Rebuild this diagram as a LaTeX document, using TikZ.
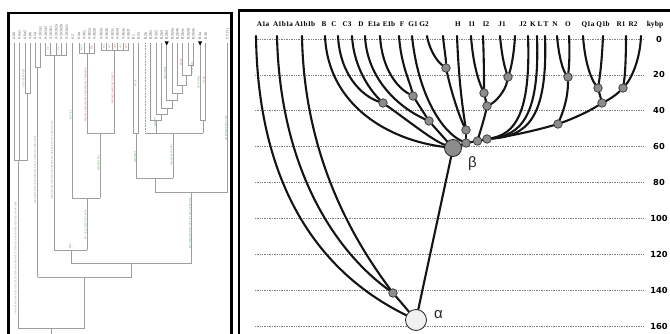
\documentclass[tikz,border=0pt]{standalone}
\usepackage{fontspec}
\setmainfont{Liberation Serif}
\setsansfont{Liberation Sans}
\newfontfamily\scalefont{DejaVu Sans}
\newfontfamily\grkfont{Liberation Sans}
\usetikzlibrary{backgrounds}
\definecolor{mg}{HTML}{5A9E5A}
\definecolor{mr}{HTML}{D25656}
\begin{document}
\begin{tikzpicture}[x=1pt,y=-1pt,
  frame/.style={line width=2.6pt,line join=miter},
  lt/.style={black!38,line width=0.6pt},
  mut/.style={rotate=90,inner sep=0pt,font=\sffamily\fontsize{2.4}{2.6}\selectfont},
  leaflab/.style={rotate=90,anchor=west,inner sep=0pt,text=black!62,font=\sffamily\fontsize{3.6}{3.8}\selectfont},
  gridline/.style={black!50,line width=0.7pt,dash pattern=on 0.6pt off 1.1pt},
  br/.style={line width=2.1pt,line cap=round,black!92},
  hap/.style={anchor=base,inner sep=0pt,font=\bfseries\fontsize{7.2}{8}\selectfont},
  kyr/.style={inner sep=0pt,font=\scalefont\bfseries\fontsize{8.3}{9}\selectfont},
  sn/.style={circle,draw=black!80,line width=0.7pt,fill=black!45,minimum size=8.5pt,inner sep=0pt},
  bign/.style={circle,draw=black!85,line width=0.8pt,fill=black!45,minimum size=17pt,inner sep=0pt},
  rootn/.style={circle,draw=black!85,line width=0.8pt,fill=black!6,minimum size=21pt,inner sep=0pt},
  grk/.style={inner sep=0pt,text=black!85,font=\grkfont\fontsize{15}{16}\selectfont}]

\useasboundingbox (0,0) rectangle (670,334);

% ---------------- left panel: detailed haplogroup A/B tree ----------------
\foreach \x/\t in {14/A00,19.5/A0a1,25/A0a2,30/A0b,35/A1a,40/A1b1a1,45.7/A1b1a2,
  50.7/A1b1b1,56/A1b1b2a,61/A1b1b2b,66.7/A1b1b2c,72.7/A2,79/A3a,84/A3b1,
  89.3/A3b2a,94.3/A3b2b,101/A3b3a,106.7/A3b3b,112.3/A3b3c,117.3/A3b3d,
  123.3/A3b3e,128.3/A3b3f,133.3/B1,138.3/B2a,145.7/B2b,150.7/B2b1,156/B2b2,
  161.7/B2b3,166.7/B2b4,172.3/B2b4a,177.3/B2b4b,182.7/B2b4c,188.3/B2b4d,
  193.3/B2b4e,200/B3a,205.7/B3b,227.7/CT (Y)}
  \node[leaflab] (leaf\x) at (\x,39.5) {\t};

% clade A00/A0
\draw[lt] (14,43) -- (14,160) -- (27.5,160);
\draw[lt] (19.5,43) -- (19.5,160);
\draw[lt] (25,43) -- (25,93) -- (30,93) -- (30,43);
\draw[lt] (27.5,93) -- (27.5,160);
\draw[lt] (18,160) -- (18,328);
% clade A1a
\draw[lt] (35,43) -- (35,67) -- (40,67) -- (40,43);
\draw[lt] (37.5,67) -- (37.5,277);
% clade A1b1
\draw[lt] (45.7,43) -- (45.7,55) -- (66.7,55) -- (66.7,43);
\foreach \x in {50.7,56,61} \draw[lt] (\x,43) -- (\x,55);
\draw[lt] (54.3,55) -- (54.3,250);
% A2 and A3
\draw[lt] (72.7,43) -- (72.7,198) -- (100,198);
\draw[lt] (79,43) -- (79,53) -- (94.3,53) -- (94.3,43);
\foreach \x in {84,89.3} \draw[lt] (\x,43) -- (\x,53);
\draw[lt] (101,43) -- (101,50) -- (128.3,50) -- (128.3,43);
\foreach \x in {106.7,112.3,117.3,123.3} \draw[lt] (\x,43) -- (\x,50);
\draw[lt] (87.3,53) -- (87.3,133) -- (114.6,133) -- (114.6,50);
\draw[lt] (100,133) -- (100,198);
\draw[lt] (87.3,198) -- (87.3,250);
\draw[lt] (54.3,250) -- (87.3,250);
\draw[lt] (71,250) -- (71,263);
% haplogroup B
\draw[lt] (133.3,43) -- (133.3,133) -- (138.3,133) -- (138.3,43);
\draw[lt] (136.7,133) -- (136.7,178) -- (173.3,178);
\draw[lt,dash pattern=on 0.8pt off 0.8pt] (145.7,43) -- (145.7,133);
\draw[lt] (188.3,43) -- (188.3,65) -- (193.3,65) -- (193.3,43);
\draw[lt] (182.7,43) -- (182.7,75) -- (190.8,75) -- (190.8,65);
\draw[lt] (177.3,43) -- (177.3,85) -- (186.7,85) -- (186.7,75);
\draw[lt] (172.3,43) -- (172.3,93) -- (182,93) -- (182,85);
\draw[lt] (166.7,43) -- (166.7,100) -- (177,100) -- (177,93);
\draw[lt] (161.7,43) -- (161.7,108) -- (172,108) -- (172,100);
\draw[lt] (156,43) -- (156,114) -- (167,114) -- (167,108);
\draw[lt] (150.7,43) -- (150.7,120) -- (161.5,120) -- (161.5,114);
\draw[lt] (156,120) -- (156,133);
\draw[lt] (200,43) -- (200,120) -- (205.7,120) -- (205.7,43);
\draw[lt] (202.8,120) -- (202.8,133);
\draw[lt] (145.7,133) -- (202.8,133);
\draw[lt] (173.3,133) -- (173.3,178);
\draw[lt] (155,178) -- (155,192) -- (227.7,192) -- (227.7,43);
\draw[lt] (191.7,192) -- (191.7,263);
% deep branches down to the root
\draw[lt] (71,263) -- (191.7,263);
\draw[lt] (131.7,263) -- (131.7,277);
\draw[lt] (37.5,277) -- (131.7,277);
\draw[lt] (84.6,277) -- (84.6,328);
\draw[lt] (18,328) -- (84.6,328);
\draw[lt] (51.5,328) -- (51.5,340);
% markers on two leaves
\fill[black] (164.7,41.5) -- (168.7,41.5) -- (166.7,45.5) -- cycle;
\fill[black] (198,41.5) -- (202,41.5) -- (200,45.5) -- cycle;

% mutation names along the branches
\node[mut,text=black!45] (m1) at (15.5,258) {V148 V149 V150 V151 V152 V153 V154 V155 V156 V157 V158 V159 V160 V161 V162 V163 V164 V165};
\node[mut,text=mg] (m2) at (23.5,78) {V205 V206 V207};
\node[mut,text=black!45] (m3) at (35,170) {L990 L991 V213 V214 V215 V216 V217 V218 V219 V220 V221};
\node[mut,text=mg] (m4) at (52,160) {V59 V60 V61 V62 V63 V64 V65 V66 V67 V68 V69 V70 V71 V72 V73 V74};
\node[mut,text=mg] (m5) at (70.5,115) {V24 V25};
\node[mut,text=mr] (m6) at (85.5,95) {M32 M51 M52 M53 M54 M55 M56 M57 M58 M59};
\node[mut,text=mr] (m7) at (112.5,88) {M13 M118 M171 M172 M173};
\node[mut,text=mg] (m8) at (98.5,163) {M91 M94 V41};
\node[mut,text=mg] (m9) at (85.5,225) {P97 V221 V222 V223 V224};
\node[mut,text=mr] (m10) at (70,246) {M42};
\node[mut,text=mg] (m11) at (135.5,83) {M236};
\node[mut,text=mg] (m12) at (135,157) {M60 M181};
\node[mut,text=mg] (m13) at (155,122) {M215 P7};
\node[mut,text=mg] (m14) at (171.5,155) {M60 M181 P85 P90};
\node[mut,text=mg] (m15) at (190,223) {M42 M94 M139 P97 V31 V64 V116 V166 V175};
\node[mut,text=mg] (m16) at (226,128) {M168 M294 P9.1 V238};
\node[mut,text=mg] (m17) at (198.5,82) {M150 M112};
\node[mut,text=mr] (m18) at (204,80) {P8 V9};
\node[mut,text=mr] (m19) at (181,62) {M218};
\node[mut,text=mg] (m20) at (165,73) {M109 M108};
\node[mut,text=black!45] (m21) at (192,68) {M192 M115};
\node[mut,text=mr] (m22) at (48,49) {V3};
\node[mut,text=mg] (m23) at (58.5,49) {V4};
\node[mut,text=mg] (m24) at (81.5,48) {M28};
\node[mut,text=mr] (m25) at (91.5,48) {M6};
\node[mut,text=mg] (m26) at (104,46.5) {P71};
\node[mut,text=mg] (m27) at (109.5,46.5) {V37};
\node[mut,text=mr] (m28) at (115,46.5) {V38};
\node[mut,text=mg] (m29) at (120.5,46.5) {V40};
\node[mut,text=mr] (m30) at (126,46.5) {V45};

% panel frames
\draw[frame] (8.5,340) -- (8.5,13) -- (231.5,13) -- (231.5,340);
\draw[frame] (239,340) -- (239,10.3) -- (680,10.3);

% ---------------- right panel: coalescent tree with time scale ----------------
\foreach \n/\x in {A1a/263,A1b1a/283,A1b1b/305,B/324,C/334,C3/347,D/361,E1a/374,
  E1b/389,F/402,G1/413,G2/424,H/458,I1/472,I2/486,J1/502,J2/523,K/533,L/540,
  T/546,N/555,O/568,Q1a/588,Q1b/603,R1/621,R2/633}
  \node[hap] (l\n) at (\x,27) {\n};
\node[hap,font=\bfseries\fontsize{7.6}{8}\selectfont] (lkybp) at (655,27) {kybp};

\foreach \n/\x in {A1a/256,A1b1a/277,A1b1b/302,B/325,C/338,C3/352,D/365,E1a/380,
  E1b/399,F/412,G1/427,G2/443,H/457,I1/471,I2/483,J1/500,J2/515,K/528,L/537,
  T/545,N/557,O/569,Q1a/583,Q1b/603,R1/626,R2/641}
  \coordinate (t\n) at (\x,36);

% coalescence nodes
\node[rootn] (alpha) at (416,320) {};
\node[sn] (nA1b) at (393,293) {};
\node[bign] (beta) at (453,148) {};
\node[sn] (nC) at (383,103) {};
\node[sn] (nE) at (413,96) {};
\node[sn] (nDE) at (429,121) {};
\node[sn] (nG) at (446,68) {};
\node[sn] (nI) at (484,93) {};
\node[sn] (nJ) at (508,77) {};
\node[sn] (nIJ) at (487,106) {};
\node[sn] (nHIJ) at (466,130) {};
\node[sn] (nNO) at (568,77) {};
\node[sn] (nQ) at (598,88) {};
\node[sn] (nR) at (623,88) {};
\node[sn] (nP) at (602,103) {};
\node[sn] (nNOP) at (558,124) {};
\node[sn] (n1) at (466,143) {};
\node[sn] (n2) at (477.5,141) {};
\node[sn] (n3) at (487,139) {};

\node[grk] (lalpha) at (438.5,315) {α};
\node[grk] (lbeta) at (472.5,164) {β};

\begin{scope}[on background layer]
  % time scale
  \foreach \k in {0,...,8}{
    \pgfmathsetmacro\yy{39+35.9*\k}
    \pgfmathtruncatemacro\vv{20*\k}
    \draw[gridline] (255,\yy) -- (643,\yy);
    \node[kyr] (k\k) at (659,\yy) {\vv};
  }
  % lineages
  \draw[br] (tA1a) .. controls (258,185) and (318,272) .. (alpha);
  \draw[br] (tA1b1a) .. controls (280,170) and (336,252) .. (nA1b);
  \draw[br] (tA1b1b) .. controls (304,155) and (352,238) .. (nA1b);
  \draw[br] (nA1b) -- (alpha);
  \draw[br] (beta) -- (alpha);
  \draw[br] (tB) .. controls (328,105) and (388,140) .. (beta);
  \draw[br] (tC) .. controls (340,75) and (362,96) .. (nC);
  \draw[br] (tC3) .. controls (354,70) and (372,92) .. (nC);
  \draw[br] (nC) .. controls (410,122) and (432,140) .. (beta);
  \draw[br] (tD) .. controls (367,80) and (400,108) .. (nDE);
  \draw[br] (tE1a) .. controls (382,70) and (398,88) .. (nE);
  \draw[br] (tE1b) .. controls (401,65) and (410,82) .. (nE);
  \draw[br] (nE) -- (nDE);
  \draw[br] (nDE) -- (beta);
  \draw[br] (tF) .. controls (418,95) and (442,132) .. (n1);
  \draw[br] (tG1) .. controls (430,52) and (438,62) .. (nG);
  \draw[br] (tG2) .. controls (444,48) and (446,58) .. (nG);
  \draw[br] (nG) .. controls (452,95) and (460,118) .. (nHIJ);
  \draw[br] (tH) .. controls (459,85) and (463,110) .. (nHIJ);
  \draw[br] (nHIJ) -- (n1);
  \draw[br] (tI1) .. controls (473,65) and (479,82) .. (nI);
  \draw[br] (tI2) .. controls (484,60) and (484,80) .. (nI);
  \draw[br] (nI) -- (nIJ);
  \draw[br] (tJ1) .. controls (502,58) and (505,68) .. (nJ);
  \draw[br] (tJ2) .. controls (514,55) and (511,68) .. (nJ);
  \draw[br] (nJ) .. controls (505,92) and (495,102) .. (nIJ);
  \draw[br] (nIJ) .. controls (484,120) and (480,132) .. (n2);
  \draw[br] (tK) .. controls (531,115) and (514,134) .. (n3);
  \draw[br] (tL) .. controls (540,118) and (520,135) .. (n3);
  \draw[br] (tT) .. controls (548,120) and (526,136) .. (n3);
  \draw[br] (tN) .. controls (559,58) and (563,70) .. (nNO);
  \draw[br] (tO) .. controls (570,55) and (569,66) .. (nNO);
  \draw[br] (nNO) .. controls (568,100) and (562,114) .. (nNOP);
  \draw[br] (tQ1a) .. controls (585,65) and (592,80) .. (nQ);
  \draw[br] (tQ1b) .. controls (602,60) and (600,76) .. (nQ);
  \draw[br] (tR1) .. controls (626,60) and (625,76) .. (nR);
  \draw[br] (tR2) .. controls (640,62) and (630,80) .. (nR);
  \draw[br] (nQ) -- (nP);
  \draw[br] (nR) .. controls (615,96) and (608,100) .. (nP);
  \draw[br] (nP) .. controls (588,112) and (572,119) .. (nNOP);
  \draw[br] (nNOP) .. controls (530,132) and (505,137) .. (n3);
  \draw[br] (n3) -- (n2);
  \draw[br] (n2) -- (n1);
  \draw[br] (n1) -- (beta);
\end{scope}
\end{tikzpicture}
\end{document}
